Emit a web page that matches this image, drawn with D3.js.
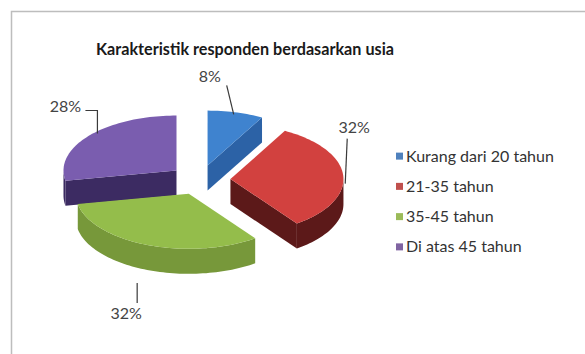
<!DOCTYPE html>
<html><head><meta charset="utf-8">
<script src="https://cdn.jsdelivr.net/npm/d3@7/dist/d3.min.js"></script>
<style>html,body{margin:0;padding:0;background:#fff;}svg{display:block;}</style>
</head><body>
<svg id="c" width="585" height="354"></svg>
<script>
const categories = ["Kurang dari 20 tahun", "21-35 tahun", "35-45 tahun", "Di atas 45 tahun"];
const values = [8, 32, 32, 28];
const percentLabels = ["8%", "32%", "32%", "28%"];
const title = "Karakteristik responden berdasarkan usia";

const topColors  = ["#3f83cf", "#d2413f", "#94bd4b", "#7a5daf"];
const wallColors = ["#2c62a6", "#5c1919", "#77983a", "#3c2b62"];
const legendColors = ["#4f81bd", "#c0504d", "#9bbb59", "#8064a2"];

const svg = d3.select("#c");
const W = 585, H = 354;
svg.append("rect").attr("x", 11.5).attr("y", 11.5).attr("width", W).attr("height", H)
  .attr("fill", "#fff").attr("stroke", "#bdbdbd").attr("stroke-width", 1.5);

svg.append("text").attr("x", 245).attr("y", 55).attr("text-anchor", "middle")
  .attr("font-family", "Lato, 'Open Sans', sans-serif").attr("font-weight", "bold")
  .attr("font-size", 16.2).attr("fill", "#1a1a1a").text(title);

// pie geometry
const cx = 200, cy = 180, rx = 113, ry = 55, depth = 25, explode = 0.27;
const pie = d3.pie().sort(null).value(d => d)(values);

function pt(a, r, ox, oy, dz) {
  return [ox + rx * r * Math.sin(a), oy - ry * r * Math.cos(a) + dz];
}
const line = d3.line();

const slices = pie.map((p, i) => {
  const mid = (p.startAngle + p.endAngle) / 2;
  const ox = cx + rx * explode * Math.sin(mid);
  const oy = cy - ry * explode * Math.cos(mid);
  return {p, i, mid, ox, oy};
});

const order = slices.slice().sort((a, b) => (-Math.cos(a.mid)) - (-Math.cos(b.mid)));
const g = svg.append("g");

function arcPts(a0, a1, s, dz) {
  const n = Math.max(2, Math.ceil(Math.abs(a1 - a0) / 0.03));
  const out = [];
  for (let k = 0; k <= n; k++) {
    const a = a0 + (a1 - a0) * k / n;
    out.push(pt(a, 1, s.ox, s.oy, dz));
  }
  return out;
}

order.forEach(s => {
  const a0 = s.p.startAngle, a1 = s.p.endAngle;
  const sg = g.append("g");
  if (Math.sin(a0) < -1e-6) {
    const e = pt(a0, 1, s.ox, s.oy, 0);
    sg.append("path").attr("d", line([[s.ox, s.oy], e, [e[0], e[1] + depth], [s.ox, s.oy + depth]]) + "Z")
      .attr("fill", wallColors[s.i]);
  }
  if (Math.sin(a1) > 1e-6) {
    const e = pt(a1, 1, s.ox, s.oy, 0);
    sg.append("path").attr("d", line([[s.ox, s.oy], e, [e[0], e[1] + depth], [s.ox, s.oy + depth]]) + "Z")
      .attr("fill", wallColors[s.i]);
  }
  const w0 = Math.max(a0, Math.PI / 2), w1 = Math.min(a1, 3 * Math.PI / 2);
  if (w1 > w0) {
    const topA = arcPts(w0, w1, s, 0);
    const botA = arcPts(w1, w0, s, depth);
    sg.append("path").attr("d", line(topA.concat(botA)) + "Z").attr("fill", wallColors[s.i]);
  }
  const tp = [[s.ox, s.oy]].concat(arcPts(a0, a1, s, 0));
  sg.append("path").attr("d", line(tp) + "Z").attr("fill", topColors[s.i]);
});

// data labels with leader lines
const labelFont = "Lato, 'Open Sans', sans-serif";
const labelLayout = [
  {tx: -26, ty: -36, leader: [[-2, 2], [-9, -27]]},
  {tx: 11, ty: -48, leader: [[2, 8], [4, -37]]},
  {tx: -21, ty: 68, leader: [[-10, 38], [-10, 58]]},
  {tx: -24, ty: -29, leader: [[8, -2], [8, -25], [-4, -25]]}
];
slices.forEach(s => {
  const a = pt(s.mid, 1, s.ox, s.oy, 0);
  const L = labelLayout[s.i];
  svg.append("path").attr("d", line(L.leader.map(d => [a[0] + d[0], a[1] + d[1]])))
    .attr("fill", "none").attr("stroke", "#3a3a3a").attr("stroke-width", 1.2);
  svg.append("text").attr("x", a[0] + L.tx).attr("y", a[1] + L.ty).attr("dy", "0.35em")
    .attr("text-anchor", "middle").attr("font-family", labelFont).attr("font-size", 16)
    .attr("fill", "#444").text(percentLabels[s.i]);
});

// legend
const ly = d3.scaleBand().domain(categories).range([141, 262]);
const lg = svg.append("g");
categories.forEach((c, i) => {
  const y = ly(c) + ly.bandwidth() / 2;
  lg.append("rect").attr("x", 396).attr("y", y - 3.5).attr("width", 7).attr("height", 7)
    .attr("fill", legendColors[i]);
  lg.append("text").attr("x", 406).attr("y", y).attr("dy", "0.35em")
    .attr("font-family", labelFont).attr("font-size", 16).attr("fill", "#333").text(c);
});
</script>
</body></html>
